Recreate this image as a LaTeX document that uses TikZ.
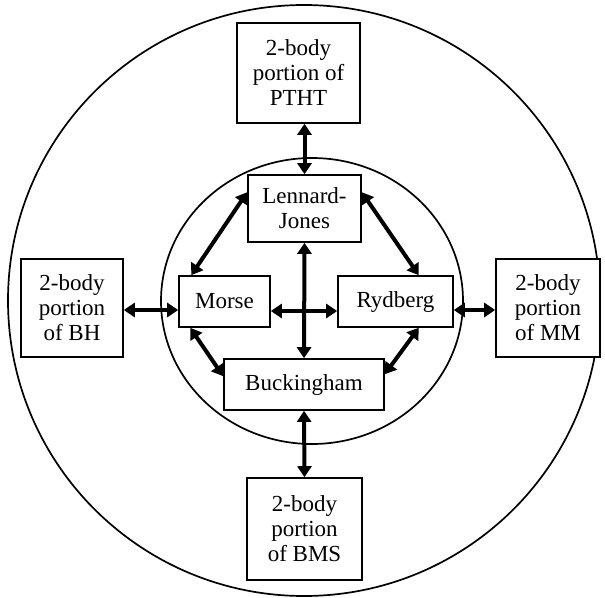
\documentclass[tikz,border=0pt]{standalone}
\usepackage{fontspec}
\setmainfont{Liberation Serif}
\usetikzlibrary{arrows.meta,calc}
\tikzset{
  box/.style={draw, line width=1.6pt, fill=white, align=center, inner sep=0pt,
    font=\fontsize{23}{25}\selectfont},
  link/.style={line width=4pt, {Triangle[width=14pt,length=11pt]}-{Triangle[width=14pt,length=11pt]}},
  ring/.style={draw, line width=1.7pt}
}
\begin{document}
\begin{tikzpicture}[x=1pt,y=-1pt]
\useasboundingbox (0,0) rectangle (605,597);
\draw[ring] (304,300.5) ellipse [x radius=296, y radius=295.5];
\draw[ring] (312,301) ellipse [x radius=151, y radius=143];
% boxes
\node[box, minimum width=123pt, minimum height=100pt] (ptht) at (298.5,73) {2-body\\portion of\\PTHT};
\node[box, minimum width=113pt, minimum height=67pt] (lj) at (304.5,208.5) {Lennard-\\Jones};
\node[box, minimum width=91pt, minimum height=51pt] (morse) at (224.5,301.5) {Morse};
\node[box, minimum width=115pt, minimum height=51pt] (ryd) at (395.5,301.5) {Rydberg};
\node[box, minimum width=160pt, minimum height=51pt] (buck) at (304,384.5) {Buckingham};
\node[box, minimum width=102pt, minimum height=98pt] (bh) at (72,308) {2-body\\portion\\of BH};
\node[box, minimum width=104pt, minimum height=98pt] (mm) at (548,308) {2-body\\portion\\of MM};
\node[box, minimum width=115pt, minimum height=102pt] (bms) at (304.5,529) {2-body\\portion\\of BMS};
% anchor points
\coordinate (ljL) at ($(lj.north west)+(0,18)$);
\coordinate (ljR) at ($(lj.north east)+(0,18)$);
\coordinate (moT) at ($(morse.north west)+(13,0)$);
\coordinate (moB) at ($(morse.south west)+(12,0)$);
\coordinate (ryT) at ($(ryd.north east)+(-35,0)$);
\coordinate (ryB) at ($(ryd.south east)+(-35,0)$);
\coordinate (buL) at ($(buck.north west)+(0,18)$);
\coordinate (buR) at ($(buck.north east)+(0,16)$);
\coordinate (moR) at ($(morse.east)+(0,9.5)$);
\coordinate (ryL) at ($(ryd.west)+(0,9.5)$);
\coordinate (bhR) at ($(bh.east)+(0,2)$);
\coordinate (moL) at ($(morse.west)+(0,8.5)$);
\coordinate (ryR) at ($(ryd.east)+(0,8.5)$);
\coordinate (mmL) at ($(mm.west)+(0,2)$);
% connectors
\draw[link] (lj.north |- ptht.south) -- (lj.north);
\draw[link] (lj.south) -- (buck.north);
\draw[link] (moR) -- (ryL);
\draw[link] (ljL) -- (moT);
\draw[link] (ljR) -- (ryT);
\draw[link] (moB) -- (buL);
\draw[link] (ryB) -- (buR);
\draw[link] (bhR) -- (moL);
\draw[link] (ryR) -- (mmL);
\draw[link] (buck.south) -- (bms.north);
\end{tikzpicture}
\end{document}
